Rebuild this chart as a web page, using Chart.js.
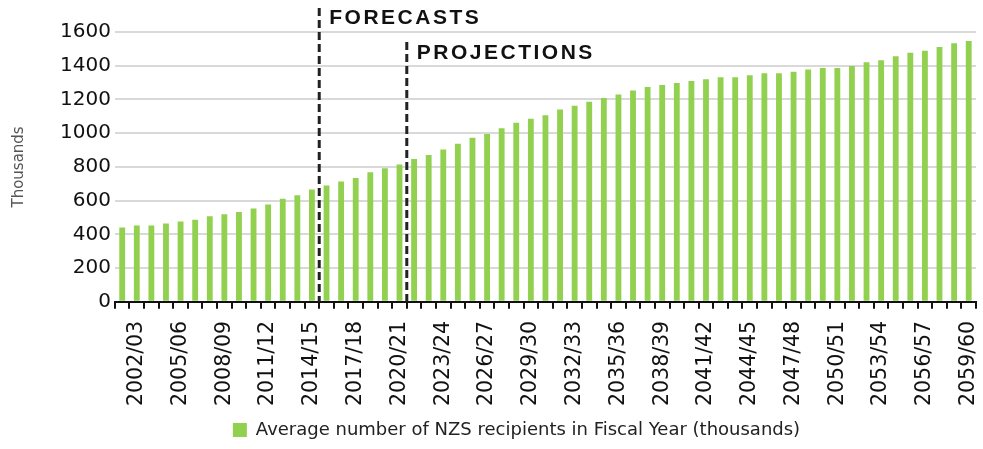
<!DOCTYPE html>
<html lang="en">
<head>
    <meta charset="UTF-8">
    <title>NZS recipients</title>
    <script src="https://cdn.jsdelivr.net/npm/chart.js"></script>
    <style>
        html, body { margin: 0; padding: 0; background: #fff; }
        #wrap { width: 983px; height: 449px; }
    </style>
</head>
<body>
    <div id="wrap"><canvas id="nzsChart"></canvas></div>

    <script>
        // Fiscal years shown on the x axis
        const fiscalYears = [
            '2001/02', '2002/03', '2003/04', '2004/05', '2005/06', '2006/07', '2007/08', '2008/09', '2009/10', '2010/11',
            '2011/12', '2012/13', '2013/14', '2014/15', '2015/16', '2016/17', '2017/18', '2018/19', '2019/20', '2020/21',
            '2021/22', '2022/23', '2023/24', '2024/25', '2025/26', '2026/27', '2027/28', '2028/29', '2029/30', '2030/31',
            '2031/32', '2032/33', '2033/34', '2034/35', '2035/36', '2036/37', '2037/38', '2038/39', '2039/40', '2040/41',
            '2041/42', '2042/43', '2043/44', '2044/45', '2045/46', '2046/47', '2047/48', '2048/49', '2049/50', '2050/51',
            '2051/52', '2052/53', '2053/54', '2054/55', '2055/56', '2056/57', '2057/58', '2058/59', '2059/60'
        ];

        // Average number of NZS recipients (thousands)
        const recipients = [
            441, 453, 453, 465, 477, 487, 508, 520, 532, 554,
            577, 611, 632, 666, 690, 713, 735, 768, 792, 814,
            847, 871, 904, 938, 973, 995, 1029, 1062, 1085, 1107,
            1140, 1162, 1186, 1208, 1229, 1253, 1274, 1286, 1298, 1310,
            1320, 1332, 1332, 1343, 1355, 1355, 1365, 1377, 1387, 1387,
            1398, 1420, 1432, 1456, 1477, 1489, 1511, 1534, 1546
        ];

        // Where the dashed markers go (after these years)
        const forecastStart = '2014/15';
        const projectionStart = '2020/21';

        // dashed vertical markers + their captions
        const markerPlugin = {
            id: 'markers',
            afterDatasetsDraw(chart) {
                const ctx = chart.ctx;
                const x = chart.scales.x;
                const bottom = chart.chartArea.bottom;
                const marks = [
                    { after: forecastStart, text: 'FORECASTS', top: 8, base: 24 },
                    { after: projectionStart, text: 'PROJECTIONS', top: 42, base: 59 }
                ];
                marks.forEach(m => {
                    let i = fiscalYears.indexOf(m.after);
                    let px = (x.getPixelForValue(i) + x.getPixelForValue(i + 1)) / 2;
                    ctx.save();
                    ctx.strokeStyle = '#222';
                    ctx.lineWidth = 3;
                    ctx.setLineDash([8, 4]);
                    ctx.beginPath();
                    ctx.moveTo(px, m.top);
                    ctx.lineTo(px, bottom);
                    ctx.stroke();
                    ctx.setLineDash([]);
                    ctx.fillStyle = '#111';
                    ctx.font = 'bold 21px "Liberation Sans", Arial, sans-serif';
                    ctx.letterSpacing = '2.5px';
                    ctx.textBaseline = 'alphabetic';
                    ctx.fillText(m.text, px + 10, m.base);
                    ctx.restore();
                });
            }
        };

        new Chart(document.getElementById('nzsChart'), {
            type: 'bar',
            data: {
                labels: fiscalYears,
                datasets: [{
                    label: 'Average number of NZS recipients in Fiscal Year (thousands)',
                    data: recipients,
                    backgroundColor: '#92d050',
                    categoryPercentage: 1.0,
                    barPercentage: 0.4
                }]
            },
            options: {
                responsive: true,
                maintainAspectRatio: false,
                animation: false,
                // negative right padding only to push the legend centre right like the original
                layout: { padding: { top: 32, right: -40, left: 10, bottom: 0 } },
                plugins: {
                    legend: {
                        position: 'bottom',
                        labels: {
                            boxWidth: 14,
                            boxHeight: 14,
                            color: '#222',
                            padding: 3,
                            font: { size: 18, family: '"DejaVu Sans", sans-serif' }
                        }
                    },
                    tooltip: { enabled: false }
                },
                scales: {
                    x: {
                        offset: true,
                        afterFit: function (scale) {
                            scale.paddingLeft = 0;
                            scale.paddingRight = 7;
                        },
                        border: { display: true, color: '#111', width: 2 },
                        grid: {
                            offset: true,
                            drawOnChartArea: false,
                            drawTicks: true,
                            tickLength: 7,
                            color: '#111',
                            lineWidth: 2
                        },
                        ticks: {
                            autoSkip: false,
                            maxRotation: 90,
                            minRotation: 90,
                            padding: 12,
                            color: '#111',
                            font: { size: 20.5, family: '"DejaVu Sans", sans-serif' },
                            callback: function (value, index) {
                                return index % 3 === 1 ? fiscalYears[index] : '';
                            }
                        }
                    },
                    y: {
                        min: 0,
                        max: 1600,
                        border: { display: false },
                        grid: { color: '#d9d9d9', lineWidth: 2, drawTicks: false },
                        ticks: {
                            stepSize: 200,
                            padding: 4,
                            color: '#111',
                            font: { size: 20, family: '"DejaVu Sans", sans-serif' },
                            callback: value => String(value)
                        },
                        title: {
                            display: true,
                            text: 'Thousands',
                            color: '#555',
                            padding: { top: 0, bottom: 28 },
                            font: { size: 15, family: '"DejaVu Sans", sans-serif' }
                        }
                    }
                }
            },
            plugins: [markerPlugin]
        });
    </script>
</body>
</html>
